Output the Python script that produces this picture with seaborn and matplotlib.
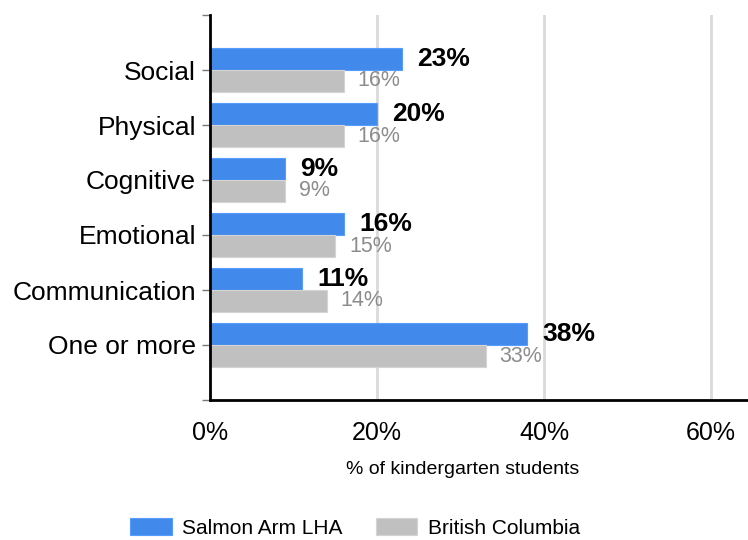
import matplotlib
matplotlib.use("Agg")
import matplotlib.pyplot as plt
import seaborn as sns
import pandas as pd

categories = ["Social", "Physical", "Cognitive", "Emotional", "Communication", "One or more"]
salmon_arm = [23, 20, 9, 16, 11, 38]
british_columbia = [16, 16, 9, 15, 14, 33]
series_names = ["Salmon Arm LHA", "British Columbia"]
x_ticks = [0, 20, 40, 60]

df = pd.DataFrame({
    "category": categories * 2,
    "value": salmon_arm + british_columbia,
    "region": [series_names[0]] * len(categories) + [series_names[1]] * len(categories),
})

sns.set_style("white")
plt.rcParams["font.family"] = ["Liberation Sans", "DejaVu Sans"]
plt.rcParams["text.color"] = "black"
plt.rcParams["xtick.color"] = "black"
plt.rcParams["ytick.color"] = "black"
plt.rcParams["axes.labelcolor"] = "black"

fig = plt.figure(figsize=(7.48, 5.40), dpi=100)
ax = fig.add_axes([210 / 748, 1 - 400 / 540, 1 - 210 / 748, 385 / 540])

palette = {series_names[0]: "#4189EB", series_names[1]: "#C0C0C0"}
sns.barplot(data=df, y="category", x="value", hue="region", order=categories,
            hue_order=series_names, palette=palette, width=0.8, orient="h",
            ax=ax, saturation=1, legend=True)

for patch in ax.patches:
    fc = patch.get_facecolor()
    patch.set_edgecolor(tuple(min(1, c + 0.08) for c in fc[:3]))
    patch.set_linewidth(0.8)

conts = ax.containers
ax.bar_label(conts[0], labels=[f"{v}%" for v in salmon_arm], padding=11,
             fontsize=19, fontweight="bold", color="black")
ax.bar_label(conts[1], labels=[f"{v}%" for v in british_columbia], padding=10,
             fontsize=15.5, color="#8C8C8C")

ax.set_xlim(0, 64.4)
ax.set_ylim(6, -1)
ax.set_yticks(range(-1, 7))
ax.set_yticklabels([""] + categories + [""], fontsize=19)
ax.set_xticks(x_ticks)
ax.set_xticklabels([f"{t}%" for t in x_ticks], fontsize=18)
ax.tick_params(axis="y", length=6, width=1, color="#777777", labelcolor="black", pad=4, left=True)
ax.tick_params(axis="x", length=0, pad=15, labelcolor="black")
ax.set_ylabel("")
ax.set_xlabel("% of kindergarten students", fontsize=14, color="black")
ax.xaxis.label.set_va("center")
ax.xaxis.set_label_coords((463 - 210) / 538, (400 - 470) / 385)

ax.grid(axis="x", color="#DADADA", linewidth=2)
ax.grid(axis="y", visible=False)
ax.set_axisbelow(True)
for s in ["top", "right"]:
    ax.spines[s].set_visible(False)
for s in ["left", "bottom"]:
    ax.spines[s].set_color("black")
    ax.spines[s].set_linewidth(2)

handles, labels = ax.get_legend_handles_labels()
ax.get_legend().remove()
fig.legend(handles, labels, loc="center", bbox_to_anchor=(355 / 748, 1 - 528 / 540),
           ncol=2, frameon=False, fontsize=15, handlelength=2.0, handleheight=0.85,
           handletextpad=0.5, columnspacing=1.6, labelcolor="black")

fig.savefig("out.png", dpi=100)
